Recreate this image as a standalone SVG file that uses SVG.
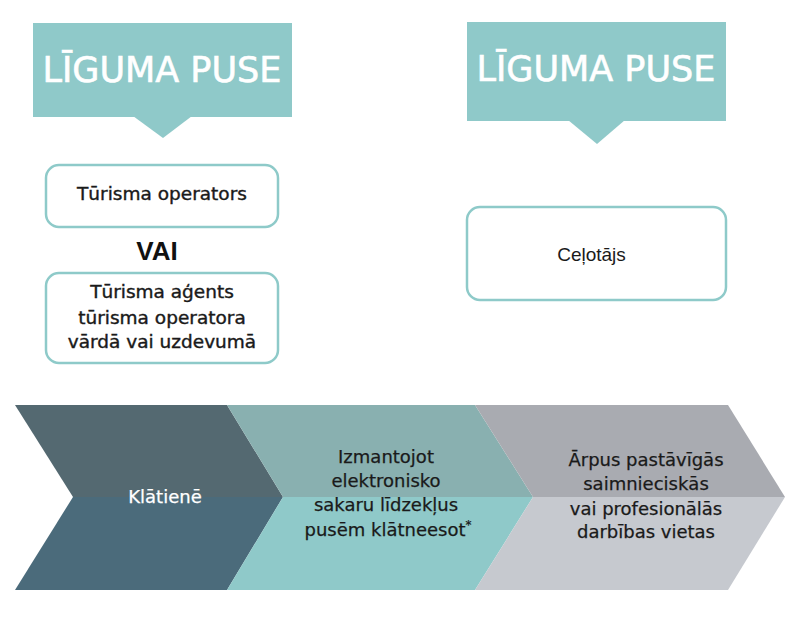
<svg xmlns="http://www.w3.org/2000/svg" width="800" height="625" viewBox="0 0 800 625">
<style>
.banner{fill:#8fc9c9}
.title{font-family:"DejaVu Sans",sans-serif;font-size:35px;fill:#fff;stroke:#fff;stroke-width:0.6;text-anchor:middle}
.box{fill:#fff;stroke:#8ecac9;stroke-width:2.5}
.t{font-family:"DejaVu Sans",sans-serif;font-size:18.5px;fill:#1a1a1a;stroke:#1a1a1a;stroke-width:0.4;text-anchor:middle}
.c{font-family:"DejaVu Sans",sans-serif;font-size:18px;fill:#1a1a1a;stroke:#1a1a1a;stroke-width:0.25;text-anchor:middle}
</style>
<rect width="800" height="625" fill="#fff"/>
<g id="banner-left">
<rect class="banner" x="33" y="23" width="259" height="94"/>
<polygon class="banner" points="133,116 192,116 163,138"/>
<text class="title" x="162" y="82">LĪGUMA PUSE</text>
</g>
<g id="banner-right">
<rect class="banner" x="467" y="22" width="259" height="99"/>
<polygon class="banner" points="568,120 625,120 597,144"/>
<text class="title" x="596" y="81">LĪGUMA PUSE</text>
</g>
<g id="box-operators">
<rect class="box" x="46" y="165" width="232" height="62" rx="13"/>
<text class="t" x="162" y="200">Tūrisma operators</text>
</g>
<g id="vai">
<text x="157" y="260" font-family="Liberation Sans, sans-serif" font-weight="bold" font-size="26" fill="#111" text-anchor="middle">VAI</text>
</g>
<g id="box-agents">
<rect class="box" x="46" y="273" width="232" height="90" rx="13"/>
<text class="t" x="162" y="298">Tūrisma aģents</text>
<text class="t" x="162" y="324">tūrisma operatora</text>
<text class="t" x="162" y="348">vārdā vai uzdevumā</text>
</g>
<g id="box-celotajs">
<rect class="box" x="467" y="207" width="259" height="93" rx="13"/>
<text x="591.5" y="261" font-family="Liberation Sans, sans-serif" font-size="19" fill="#1a1a1a" text-anchor="middle">Ceļotājs</text>
</g>
<g id="chevron-klatiene">
<polygon points="15,405 227,405 283,497 73,497" fill="#546971"/>
<polygon points="73,497 283,497 227,590 15,590" fill="#4b6b7b"/>
<text x="165" y="503" font-family="DejaVu Sans, sans-serif" font-size="18" fill="#fff" stroke="#fff" stroke-width="0.25" text-anchor="middle">Klātienē</text>
</g>
<g id="chevron-elektroniski">
<polygon points="227,405 475,405 533,497 283,497" fill="#89b0b0"/>
<polygon points="283,497 533,497 475,590 227,590" fill="#8fc9c9"/>
<text class="c" x="386" y="463">Izmantojot</text>
<text class="c" x="386" y="487">elektronisko</text>
<text class="c" x="386" y="511">sakaru līdzekļus</text>
<text class="c" x="388" y="536">pusēm klātneesot<tspan font-size="12" dy="-7">*</tspan></text>
</g>
<g id="chevron-arpus">
<polygon points="475,405 728,405 785,497 533,497" fill="#a9abb1"/>
<polygon points="533,497 785,497 728,590 475,590" fill="#c6c9cf"/>
<text class="c" x="646" y="466">Ārpus pastāvīgās</text>
<text class="c" x="646" y="490">saimnieciskās</text>
<text class="c" x="646" y="515">vai profesionālās</text>
<text class="c" x="646" y="538">darbības vietas</text>
</g>
</svg>
